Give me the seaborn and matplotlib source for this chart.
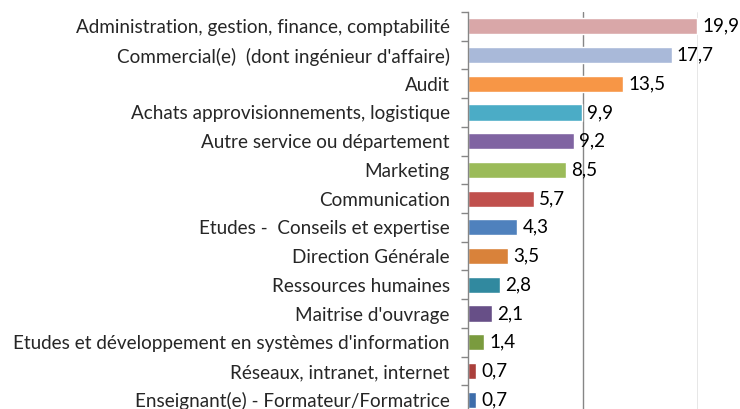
import matplotlib
matplotlib.use('Agg')
import matplotlib.pyplot as plt
import seaborn as sns
import pandas as pd

# Data
categories = [
    "Administration, gestion, finance, comptabilité",
    "Commercial(e)  (dont ingénieur d'affaire)",
    "Audit",
    "Achats approvisionnements, logistique",
    "Autre service ou département",
    "Marketing",
    "Communication",
    "Etudes -  Conseils et expertise",
    "Direction Générale",
    "Ressources humaines",
    "Maitrise d'ouvrage",
    "Etudes et développement en systèmes d'information",
    "Réseaux, intranet, internet",
    "Enseignant(e) - Formateur/Formatrice",
]
values = [19.9, 17.7, 13.5, 9.9, 9.2, 8.5, 5.7, 4.3, 3.5, 2.8, 2.1, 1.4, 0.7, 0.7]
colors = [
    "#D9A7A8", "#A9B9D9", "#F79646", "#4BACC6", "#8064A2", "#9BBB59", "#C0504D",
    "#4F81BD", "#D9823A", "#31899F", "#674F87", "#7A9B3E", "#AA3F3B", "#3D6DAA",
]

df = pd.DataFrame({"categorie": categories, "valeur": values})

sns.set_style("white")
plt.rcParams['font.family'] = ['Lato', 'DejaVu Sans']

fig = plt.figure(figsize=(7.4, 4.09), dpi=100)
ax = fig.add_axes([468 / 740, -5 / 409, 230 / 740, 402 / 409])

sns.barplot(data=df, x="valeur", y="categorie", hue="categorie", palette=colors,
            legend=False, width=0.56, saturation=1, ax=ax)

ax.set_xlim(0, 20)
ax.set_ylim(13.5, -0.5)
ax.set_xticks([10, 20])
ax.xaxis.grid(True, color="#868686", linewidth=1)
ax.set_axisbelow(True)
ax.set_xlabel("")
ax.set_ylabel("")
ax.tick_params(axis="x", bottom=False, labelbottom=False)

# y ticks at category boundaries, labels centred on bars
ax.set_yticks(range(len(categories)))
ax.set_yticklabels(categories, fontsize=13.6)
ax.set_yticks([i - 0.5 for i in range(len(categories) + 1)], minor=True)
ax.tick_params(axis="y", which="major", length=0, pad=13)
ax.tick_params(axis="y", which="minor", length=5, color="#868686", width=1, left=True)

for s in ["top", "right", "bottom"]:
    ax.spines[s].set_visible(False)
ax.spines["left"].set_color("#868686")
ax.spines["left"].set_linewidth(1)

for i, v in enumerate(values):
    ax.text(v + 0.45, i, f"{v:.1f}".replace(".", ","), va="center", ha="left",
            fontsize=13.6, color="black", clip_on=False)

fig.savefig("out.png", dpi=100)
